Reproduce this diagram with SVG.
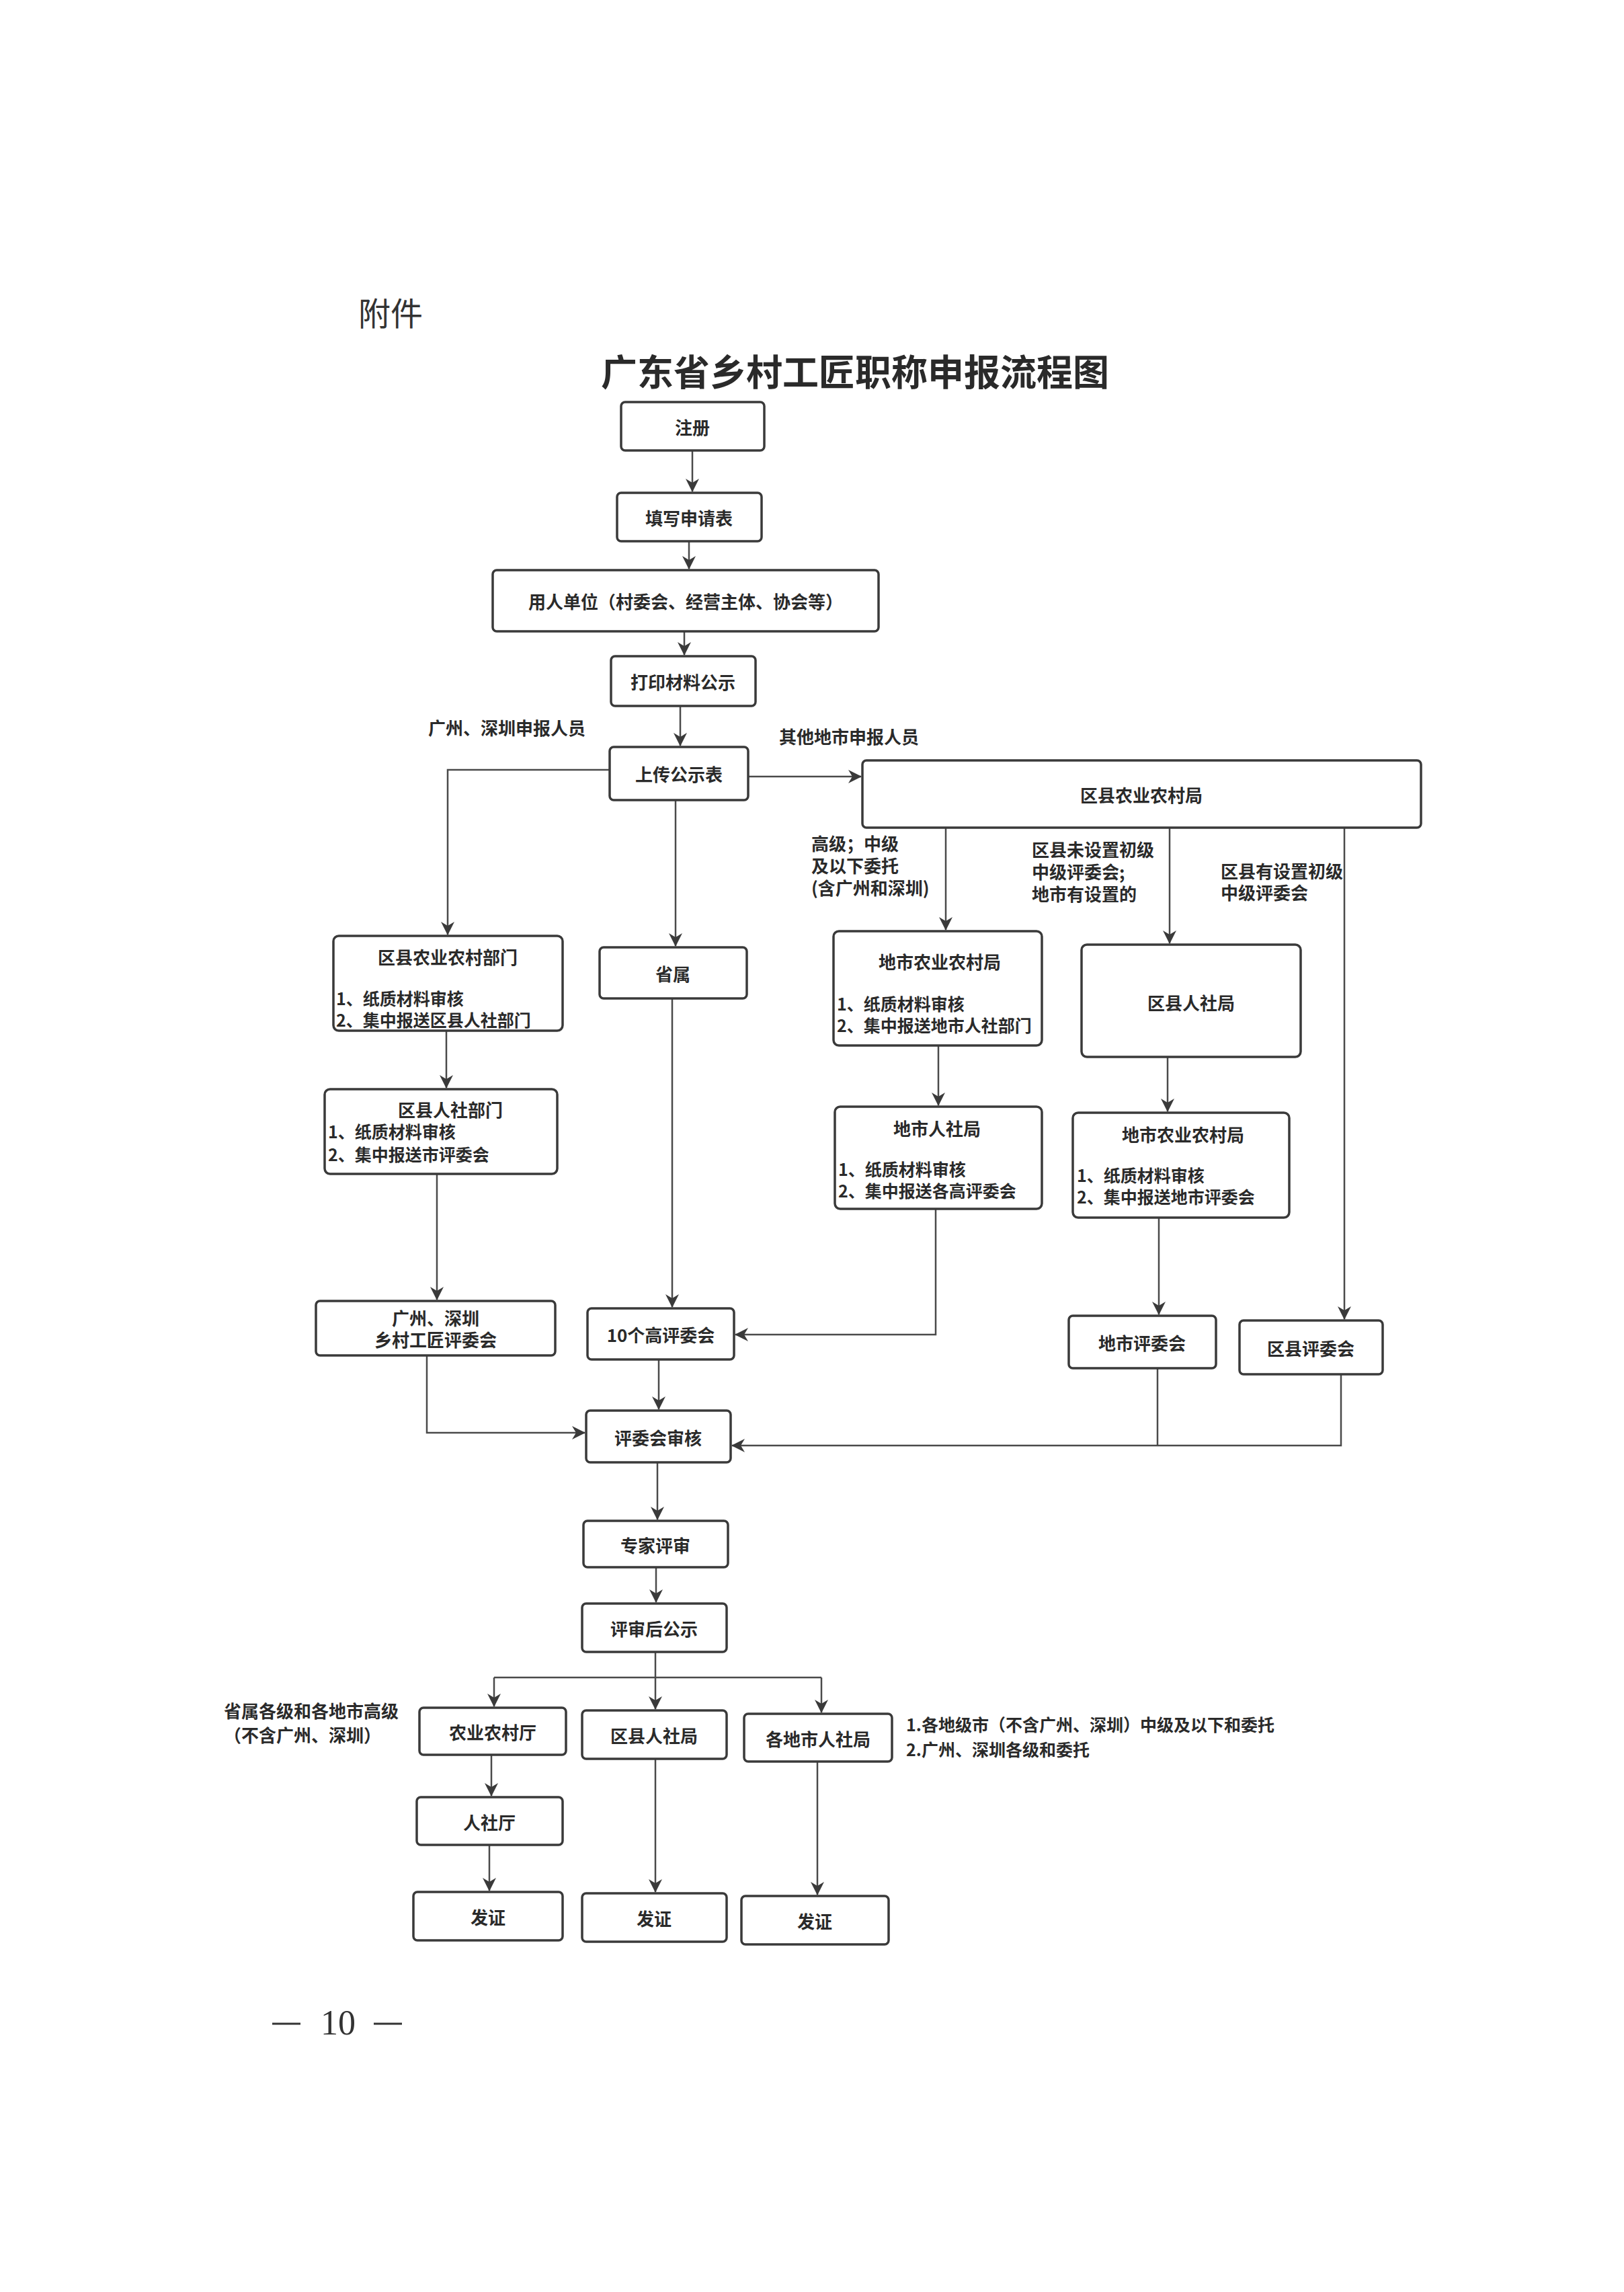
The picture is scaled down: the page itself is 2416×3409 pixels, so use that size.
<svg xmlns="http://www.w3.org/2000/svg" width="2416" height="3409" viewBox="0 0 2416 3409">
<style>
.bg{fill:#ffffff}
.box{fill:#ffffff;stroke:#3a3a3a;stroke-width:3.5}
.t{font-family:"Noto Sans CJK SC","Noto Sans",sans-serif;font-size:26px;font-weight:bold;fill:#2a2a2a;dominant-baseline:central}
.c{text-anchor:middle}
.b{font-size:25px}
.ln{fill:none;stroke:#4a4a4a;stroke-width:2.5}
.hd{font-family:"Noto Sans CJK SC",sans-serif;font-size:48px;fill:#333;dominant-baseline:central}
.title{font-family:"Noto Sans CJK SC",sans-serif;font-size:54px;font-weight:bold;fill:#2a2a2a;dominant-baseline:central;text-anchor:middle}
.pg{font-family:"Liberation Serif",serif;font-size:52px;fill:#333;dominant-baseline:central}
.dash{stroke:#333;stroke-width:3}
</style>
<defs>
<marker id="ar" markerUnits="userSpaceOnUse" markerWidth="20" markerHeight="22" refX="19" refY="10" orient="auto">
<path d="M0,0 L20,10 L0,20 L6,10 Z" fill="#3a3a3a"/>
</marker>
</defs>
<rect class="bg" x="0" y="0" width="2416" height="3409"/>
<text class="hd" x="533" y="463">附件</text>
<text class="title" x="1272" y="550">广东省乡村工匠职称申报流程图</text>

<g id="connectors">
<path class="ln" d="M1030,670 V731" marker-end="url(#ar)"/>
<path class="ln" d="M1025,805 V846" marker-end="url(#ar)"/>
<path class="ln" d="M1018,939 V974" marker-end="url(#ar)"/>
<path class="ln" d="M1012,1050 V1109" marker-end="url(#ar)"/>
<path class="ln" d="M907,1145 H666 V1390" marker-end="url(#ar)"/>
<path class="ln" d="M1113,1155 H1281" marker-end="url(#ar)"/>
<path class="ln" d="M1005,1190 V1407" marker-end="url(#ar)"/>
<path class="ln" d="M1407,1231 V1383" marker-end="url(#ar)"/>
<path class="ln" d="M1740,1231 V1403" marker-end="url(#ar)"/>
<path class="ln" d="M2000,1231 V1962" marker-end="url(#ar)"/>
<path class="ln" d="M664,1533 V1618" marker-end="url(#ar)"/>
<path class="ln" d="M650,1746 V1933" marker-end="url(#ar)"/>
<path class="ln" d="M1000,1485 V1944" marker-end="url(#ar)"/>
<path class="ln" d="M1396,1555 V1644" marker-end="url(#ar)"/>
<path class="ln" d="M1392,1798 V1985 H1094" marker-end="url(#ar)"/>
<path class="ln" d="M1737,1572 V1653" marker-end="url(#ar)"/>
<path class="ln" d="M1724,1811 V1955" marker-end="url(#ar)"/>
<path class="ln" d="M635,2016 V2131 H870" marker-end="url(#ar)"/>
<path class="ln" d="M980,2022 V2096" marker-end="url(#ar)"/>
<path class="ln" d="M1722,2035 V2150"/>
<path class="ln" d="M1995,2044 V2150 H1089" marker-end="url(#ar)"/>
<path class="ln" d="M978,2175 V2260" marker-end="url(#ar)"/>
<path class="ln" d="M976,2331 V2383" marker-end="url(#ar)"/>
<path class="ln" d="M975,2457 V2495"/>
<path class="ln" d="M735,2495 H1222"/>
<path class="ln" d="M735,2495 V2538" marker-end="url(#ar)"/>
<path class="ln" d="M975,2495 V2542" marker-end="url(#ar)"/>
<path class="ln" d="M1222,2495 V2547" marker-end="url(#ar)"/>
<path class="ln" d="M731,2610 V2671" marker-end="url(#ar)"/>
<path class="ln" d="M728,2744 V2812" marker-end="url(#ar)"/>
<path class="ln" d="M975,2616 V2814" marker-end="url(#ar)"/>
<path class="ln" d="M1216,2620 V2818" marker-end="url(#ar)"/>
</g>

<g id="labels">
<text class="t" x="637" y="1081">广州、深圳申报人员</text>
<text class="t" x="1159" y="1094">其他地市申报人员</text>
<text class="t" x="1207" y="1253">高级；中级</text>
<text class="t" x="1207" y="1286">及以下委托</text>
<text class="t" x="1207" y="1319">(含广州和深圳)</text>
<text class="t" x="1535" y="1262">区县未设置初级</text>
<text class="t" x="1535" y="1295">中级评委会;</text>
<text class="t" x="1535" y="1328">地市有设置的</text>
<text class="t" x="1816" y="1294">区县有设置初级</text>
<text class="t" x="1816" y="1326">中级评委会</text>
<text class="t" x="333" y="2543">省属各级和各地市高级</text>
<text class="t" x="333" y="2579">（不含广州、深圳）</text>
<text class="t b" x="1348" y="2564">1.各地级市（不含广州、深圳）中级及以下和委托</text>
<text class="t b" x="1348" y="2601">2.广州、深圳各级和委托</text>
</g>

<g id="n_zhuce"><rect class="box" x="924" y="598" width="213" height="72" rx="6"/><text class="t c" x="1030" y="634">注册</text></g>
<g id="n_tianxie"><rect class="box" x="918" y="733" width="215" height="72" rx="6"/><text class="t c" x="1025" y="769">填写申请表</text></g>
<g id="n_yongren"><rect class="box" x="733" y="848" width="574" height="91" rx="6"/><text class="t c" x="1020" y="893">用人单位（村委会、经营主体、协会等）</text></g>
<g id="n_dayin"><rect class="box" x="909" y="976" width="215" height="74" rx="6"/><text class="t c" x="1016" y="1013">打印材料公示</text></g>
<g id="n_shangchuan"><rect class="box" x="907" y="1111" width="206" height="79" rx="6"/><text class="t c" x="1010" y="1150">上传公示表</text></g>
<g id="n_quxian_nync_ju"><rect class="box" x="1283" y="1131" width="831" height="100" rx="6"/><text class="t c" x="1698" y="1181">区县农业农村局</text></g>

<g id="n_quxian_nync_bumen"><rect class="box" x="496" y="1392" width="341" height="141" rx="8"/>
<text class="t c" x="666" y="1422">区县农业农村部门</text>
<text class="t b" x="500" y="1484">1、纸质材料审核</text>
<text class="t b" x="500" y="1516">2、集中报送区县人社部门</text></g>
<g id="n_shengshu"><rect class="box" x="892" y="1409" width="219" height="76" rx="6"/><text class="t c" x="1001" y="1447">省属</text></g>
<g id="n_dishi_nync_ju"><rect class="box" x="1240" y="1385" width="310" height="170" rx="8"/>
<text class="t c" x="1398" y="1429">地市农业农村局</text>
<text class="t b" x="1245" y="1492">1、纸质材料审核</text>
<text class="t b" x="1245" y="1524">2、集中报送地市人社部门</text></g>
<g id="n_quxian_rsj"><rect class="box" x="1609" y="1405" width="326" height="167" rx="8"/><text class="t c" x="1772" y="1490">区县人社局</text></g>

<g id="n_quxian_rs_bumen"><rect class="box" x="483" y="1620" width="346" height="126" rx="8"/>
<text class="t c" x="670" y="1649">区县人社部门</text>
<text class="t b" x="488" y="1682">1、纸质材料审核</text>
<text class="t b" x="488" y="1716">2、集中报送市评委会</text></g>
<g id="n_dishi_rsj"><rect class="box" x="1242" y="1646" width="308" height="152" rx="8"/>
<text class="t c" x="1394" y="1677">地市人社局</text>
<text class="t b" x="1247" y="1738">1、纸质材料审核</text>
<text class="t b" x="1247" y="1770">2、集中报送各高评委会</text></g>
<g id="n_dishi_nync_ju2"><rect class="box" x="1596" y="1655" width="322" height="156" rx="8"/>
<text class="t c" x="1760" y="1686">地市农业农村局</text>
<text class="t b" x="1602" y="1747">1、纸质材料审核</text>
<text class="t b" x="1602" y="1779">2、集中报送地市评委会</text></g>

<g id="n_gzsz_pwh"><rect class="box" x="470" y="1935" width="356" height="81" rx="6"/>
<text class="t c" x="648" y="1959">广州、深圳</text>
<text class="t c" x="648" y="1991">乡村工匠评委会</text></g>
<g id="n_gao_pwh"><rect class="box" x="874" y="1946" width="218" height="76" rx="6"/><text class="t c" x="983" y="1984">10个高评委会</text></g>
<g id="n_dishi_pwh"><rect class="box" x="1590" y="1957" width="219" height="78" rx="6"/><text class="t c" x="1699" y="1996">地市评委会</text></g>
<g id="n_quxian_pwh"><rect class="box" x="1844" y="1964" width="213" height="80" rx="6"/><text class="t c" x="1950" y="2004">区县评委会</text></g>

<g id="n_pwh_shenhe"><rect class="box" x="872" y="2098" width="215" height="77" rx="6"/><text class="t c" x="979" y="2137">评委会审核</text></g>
<g id="n_zhuanjia"><rect class="box" x="868" y="2262" width="215" height="69" rx="6"/><text class="t c" x="975" y="2297">专家评审</text></g>
<g id="n_pingshen_gs"><rect class="box" x="866" y="2385" width="215" height="72" rx="6"/><text class="t c" x="973" y="2421">评审后公示</text></g>

<g id="n_nync_ting"><rect class="box" x="624" y="2540" width="218" height="70" rx="6"/><text class="t c" x="733" y="2575">农业农村厅</text></g>
<g id="n_quxian_rsj2"><rect class="box" x="866" y="2544" width="215" height="72" rx="6"/><text class="t c" x="973" y="2580">区县人社局</text></g>
<g id="n_gedishi_rsj"><rect class="box" x="1107" y="2549" width="220" height="71" rx="6"/><text class="t c" x="1217" y="2585">各地市人社局</text></g>
<g id="n_rensheting"><rect class="box" x="620" y="2673" width="217" height="71" rx="6"/><text class="t c" x="728" y="2709">人社厅</text></g>
<g id="n_fz1"><rect class="box" x="615" y="2814" width="222" height="72" rx="6"/><text class="t c" x="726" y="2850">发证</text></g>
<g id="n_fz2"><rect class="box" x="866" y="2816" width="215" height="72" rx="6"/><text class="t c" x="973" y="2852">发证</text></g>
<g id="n_fz3"><rect class="box" x="1103" y="2820" width="219" height="72" rx="6"/><text class="t c" x="1212" y="2856">发证</text></g>

<g id="page">
<line class="dash" x1="405" y1="3010" x2="447" y2="3010"/>
<text class="pg" x="503" y="3008" text-anchor="middle">10</text>
<line class="dash" x1="556" y1="3010" x2="598" y2="3010"/>
</g>
</svg>
